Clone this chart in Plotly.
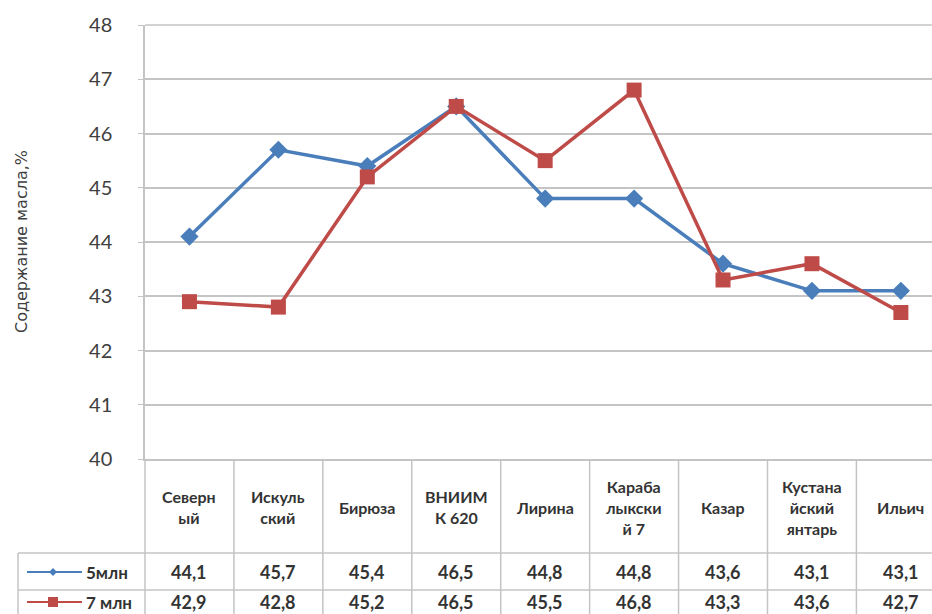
import plotly.graph_objects as go

# Варианты (подписи разбиты на строки так, как они стоят в шапке таблицы)
categories = ["Северн<br>ый", "Искуль<br>ский", "Бирюза", "ВНИИМ<br>К 620", "Лирина",
              "Караба<br>лыкски<br>й 7", "Казар", "Кустана<br>йский<br>янтарь", "Ильич"]
series_names = ["5млн", "7 млн"]
values_5 = [44.1, 45.7, 45.4, 46.5, 44.8, 44.8, 43.6, 43.1, 43.1]
values_7 = [42.9, 42.8, 45.2, 46.5, 45.5, 46.8, 43.3, 43.6, 42.7]
y_ticks = [40, 41, 42, 43, 44, 45, 46, 47, 48]
y_title = "Содержание масла,%"

W, H = 932, 614
ML, MR, MT, MB = 145, 0, 25, 155
PW, PH = W - ML - MR, H - MT - MB
X_RANGE = [-0.5, 8.35]

BLUE = "#4A7EBB"
RED = "#BE4B48"
GRID = "#C4C4C4"
TXT = "#333333"
FONT = "Lato"


def px_x(px):
    return (px - ML) / PW


def px_y(py):
    return (H - MB - py) / PH


def fmt(v):
    return f"{v:.1f}".replace(".", ",")


def label(x, y, text, size, xref="paper", xanchor="center", angle=0, bold=True,
          family=FONT, color=TXT):
    return dict(x=x, y=y, xref=xref, yref="paper", text=text, showarrow=False,
                xanchor=xanchor, yanchor="middle", align="center", textangle=angle,
                font=dict(family=family, size=size, color=color,
                          weight="bold" if bold else "normal"))


xs = list(range(len(categories)))

fig = go.Figure()
fig.add_trace(go.Scatter(x=xs, y=values_5, mode="lines+markers", name=series_names[0],
                         line=dict(color=BLUE, width=3.5),
                         marker=dict(symbol="diamond", size=14, color=BLUE)))
fig.add_trace(go.Scatter(x=xs, y=values_7, mode="lines+markers", name=series_names[1],
                         line=dict(color=RED, width=3.5),
                         marker=dict(symbol="square", size=15, color=RED)))

shapes = []
annotations = []
line_style = dict(color=GRID, width=1.5)

# Рамка таблицы данных под осью X
row1_top, row2_top, bottom = 553, 590, H + 5
for py in (row1_top, row2_top):
    shapes.append(dict(type="line", xref="paper", yref="paper",
                       x0=px_x(18), x1=1, y0=px_y(py), y1=px_y(py), line=line_style))
shapes.append(dict(type="line", xref="paper", yref="paper",
                   x0=px_x(18), x1=px_x(18), y0=px_y(row1_top), y1=px_y(bottom), line=line_style))
shapes.append(dict(type="line", xref="paper", yref="paper",
                   x0=0, x1=0, y0=0, y1=px_y(bottom), line=line_style))
shapes.append(dict(type="line", xref="paper", yref="paper",
                   x0=0, x1=1, y0=1, y1=1, line=line_style))
for i in range(len(categories) - 1):
    shapes.append(dict(type="line", xref="x", yref="paper",
                       x0=i + 0.5, x1=i + 0.5, y0=0, y1=px_y(bottom), line=line_style))

# Шапка с названиями вариантов и строки значений
for i, cat in enumerate(categories):
    annotations.append(label(i, px_y(507), cat, 16, xref="x"))
    annotations.append(label(i, px_y(572), fmt(values_5[i]), 18, xref="x"))
    annotations.append(label(i, px_y(602), fmt(values_7[i]), 18, xref="x"))

# Ключи легенды в левой колонке таблицы
for name, color, cy, kind in ((series_names[0], BLUE, 572, "diamond"),
                              (series_names[1], RED, 602, "square")):
    shapes.append(dict(type="line", xref="paper", yref="paper",
                       x0=px_x(27), x1=px_x(82), y0=px_y(cy), y1=px_y(cy),
                       line=dict(color=color, width=2)))
    if kind == "square":
        shapes.append(dict(type="rect", xref="paper", yref="paper",
                           x0=px_x(48), x1=px_x(58), y0=px_y(cy - 5), y1=px_y(cy + 5),
                           fillcolor=color, line=dict(width=0)))
    else:
        cx = 53
        path = (f"M {px_x(cx - 4)},{px_y(cy)} L {px_x(cx)},{px_y(cy - 4)} "
                f"L {px_x(cx + 4)},{px_y(cy)} L {px_x(cx)},{px_y(cy + 4)} Z")
        shapes.append(dict(type="path", xref="paper", yref="paper", path=path,
                           fillcolor=color, line=dict(width=0)))
    annotations.append(label(px_x(84), px_y(cy), name, 17, xanchor="left"))

# Подпись оси Y
annotations.append(label(px_x(21), px_y(242), y_title, 16, angle=-90, bold=False,
                         family="DejaVu Sans", color="#404040"))

fig.update_layout(
    width=W, height=H,
    margin=dict(l=ML, r=MR, t=MT, b=MB, pad=0),
    paper_bgcolor="white", plot_bgcolor="white",
    showlegend=False,
    shapes=shapes, annotations=annotations,
    xaxis=dict(range=X_RANGE, showticklabels=False, showgrid=False, zeroline=False,
               showline=True, linecolor=GRID, linewidth=1.5, ticks=""),
    yaxis=dict(range=[40, 48], tickvals=y_ticks, showgrid=True, gridcolor=GRID, gridwidth=1.5,
               zeroline=False, showline=True, linecolor=GRID, linewidth=1.5,
               ticks="outside", ticklen=5, tickcolor=GRID, ticklabelstandoff=22,
               tickfont=dict(family=FONT, size=20, color="#404040")),
)

fig.write_html("out.html")
